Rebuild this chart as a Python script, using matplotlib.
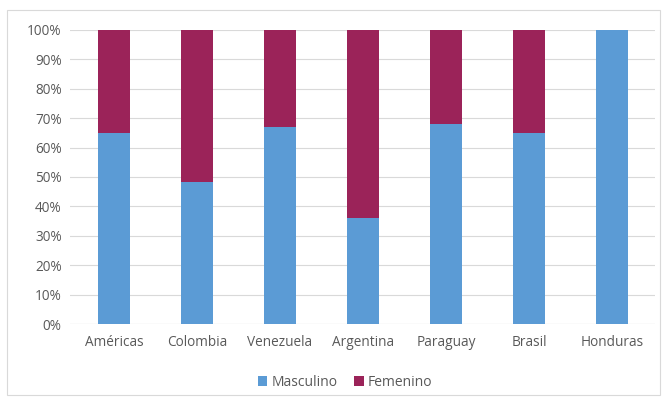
import numpy as np
import matplotlib.pyplot as plt
from matplotlib.patches import Rectangle
from matplotlib.ticker import PercentFormatter

plt.rcParams['font.family'] = ['Open Sans', 'DejaVu Sans']

# datos
paises = ['Américas', 'Colombia', 'Venezuela', 'Argentina', 'Paraguay', 'Brasil', 'Honduras']
masculino = [0.65, 0.483, 0.67, 0.36, 0.68, 0.65, 1.0]
femenino = [1 - m for m in masculino]

azul = '#5B9BD5'
granate = '#9B2359'
gris = '#595959'

fig = plt.figure(figsize=(6.67, 4.05), dpi=100)
ax = fig.add_axes([0.105, 0.2, 0.877, 0.726])

x = np.arange(len(paises))
ax.bar(x, masculino, width=0.39, color=azul, label='Masculino', zorder=3)
ax.bar(x, femenino, width=0.39, bottom=masculino, color=granate, label='Femenino', zorder=3)

ax.set_xlim(-0.53, 6.52)
ax.set_ylim(0, 1)
ax.set_yticks(np.arange(0, 1.01, 0.1))
ax.yaxis.set_major_formatter(PercentFormatter(1.0, decimals=0))
ax.set_xticks(x)
ax.set_xticklabels(paises)
ax.tick_params(length=0, labelsize=9.8, colors=gris, pad=8)
ax.tick_params(axis='y', pad=6)
ax.grid(axis='y', color='#D9D9D9', linewidth=0.8, zorder=0)
for s in ax.spines.values():
    s.set_visible(False)
ax.axhline(0, color='#D9D9D9', linewidth=0.8, zorder=2)

fig.legend(loc='center', bbox_to_anchor=(345 / 667, 1 - 382 / 405), ncol=2,
           frameon=False, fontsize=10, handlelength=0.7, handleheight=0.7,
           handletextpad=0.3, columnspacing=1.2, labelcolor=gris)

# marco del gráfico
fig.patches.append(Rectangle((7 / 667, 10 / 405), 653 / 667, 385 / 405,
                             transform=fig.transFigure, fill=False,
                             edgecolor='#D9D9D9', linewidth=0.8))

fig.savefig('out.png', dpi=100)
